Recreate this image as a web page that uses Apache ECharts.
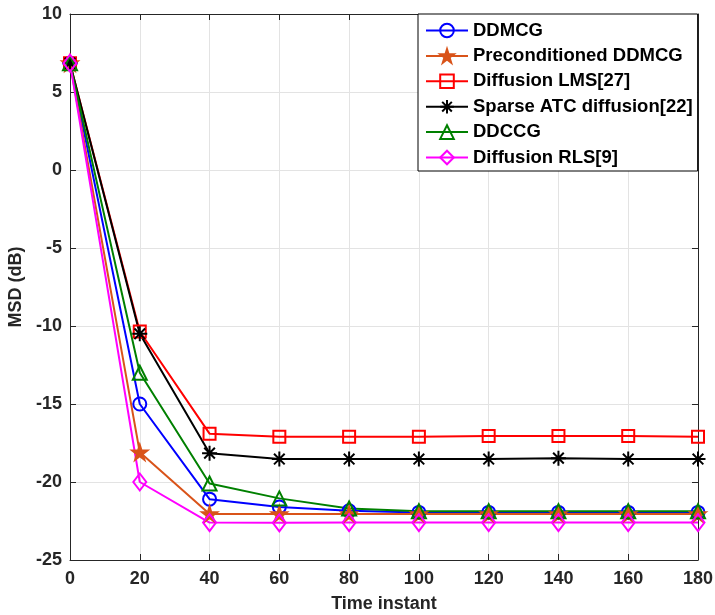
<!DOCTYPE html>
<html>
<head>
<meta charset="utf-8">
<script src="https://cdn.jsdelivr.net/npm/echarts@6/dist/echarts.min.js"></script>
<style>
  html, body { margin: 0; padding: 0; background: #fff; overflow: hidden; }
  #chart { width: 715px; height: 615px; }
</style>
</head>
<body>
<div id="chart"></div>
<script>
// Time instants at which the MSD was sampled
const timeInstants = [0, 20, 40, 60, 80, 100, 120, 140, 160, 180];

// MSD curves (dB)
const msdDDMCG      = [6.85, -15.0, -21.1, -21.6, -21.85, -21.95, -21.95, -21.95, -21.95, -21.95];
const msdPrecond    = [6.85, -18.1, -22.05, -22.05, -22.05, -22.05, -22.05, -22.05, -22.05, -22.05];
const msdLMS        = [6.85, -10.35, -16.9, -17.1, -17.1, -17.1, -17.05, -17.05, -17.05, -17.1];
const msdSparseATC  = [6.85, -10.5, -18.15, -18.53, -18.53, -18.53, -18.53, -18.47, -18.53, -18.53];
const msdDDCCG      = [6.85, -13.0, -20.1, -21.05, -21.7, -21.87, -21.87, -21.87, -21.87, -21.87];
const msdRLS        = [6.85, -20.0, -22.6, -22.62, -22.6, -22.6, -22.6, -22.6, -22.6, -22.6];

const seriesNames = ['DDMCG', 'Preconditioned DDMCG', 'Diffusion LMS[27]',
                     'Sparse ATC diffusion[22]', 'DDCCG', 'Diffusion RLS[9]'];

const xTicks = { min: 0, max: 180, interval: 20 };
const yTicks = { min: -25, max: 10, interval: 5 };

const STAR = 'path://M0,-100L22.5,-30.9L95.1,-30.9L36.3,11.8L58.8,80.9L0,38.2L-58.8,80.9L-36.3,11.8L-95.1,-30.9L-22.5,-30.9Z';
const ASTERISK = 'path://M0,-100L0,100M-100,0L100,0M-71,-71L71,71M-71,71L71,-71';

function pairs(ys) {
  return timeInstants.map((t, i) => [t, ys[i]]);
}

function curve(name, ys, color, symbol, size, filled) {
  return {
    name: name,
    type: 'line',
    data: pairs(ys),
    symbol: symbol,
    symbolSize: size,
    clip: false,
    lineStyle: { color: color, width: 2 },
    itemStyle: {
      color: filled ? color : 'rgba(255,255,255,0)',
      borderColor: color,
      borderWidth: 2
    },
    emphasis: { disabled: true },
    animation: false
  };
}

const font = 'Liberation Sans, Arial, Helvetica, sans-serif';
const axisInk = '#262626';

const chart = echarts.init(document.getElementById('chart'), null, { renderer: 'canvas' });

function baseX(extra) {
  return Object.assign({
    type: 'value', min: xTicks.min, max: xTicks.max, interval: xTicks.interval,
    axisLine: { show: true, onZero: false, lineStyle: { color: axisInk, width: 1 } },
    axisTick: { show: true, inside: true, length: 6, lineStyle: { color: axisInk } },
    splitLine: { show: false }
  }, extra);
}
function baseY(extra) {
  return Object.assign({
    type: 'value', min: yTicks.min, max: yTicks.max, interval: yTicks.interval,
    axisLine: { show: true, onZero: false, lineStyle: { color: axisInk, width: 1 } },
    axisTick: { show: true, inside: true, length: 6, lineStyle: { color: axisInk } },
    splitLine: { show: false }
  }, extra);
}

chart.setOption({
  backgroundColor: '#ffffff',
  animation: false,
  grid: { left: 70, right: 17, top: 14, bottom: 55, containLabel: false, outerBoundsMode: 'none' },
  legend: {
    orient: 'vertical',
    left: 418,
    top: 14,
    padding: [7, 5, 4, 7],
    itemGap: 6.4,
    itemWidth: 42,
    itemHeight: 17,
    backgroundColor: '#ffffff',
    borderColor: '#000000',
    borderWidth: 1,
    textStyle: { fontFamily: font, fontWeight: 'bold', fontSize: 18.5, color: '#000', lineHeight: 18 },
    data: seriesNames
  },
  xAxis: [
    baseX({
      position: 'bottom',
      name: 'Time instant',
      nameLocation: 'middle',
      nameGap: 35,
      nameTextStyle: { fontFamily: font, fontWeight: 'bold', fontSize: 18, color: axisInk },
      axisLabel: { margin: 10, fontFamily: font, fontWeight: 'bold', fontSize: 18, color: axisInk },
      splitLine: { show: true, lineStyle: { color: '#e3e3e3', width: 1 } }
    }),
    baseX({ position: 'top', axisLabel: { show: false } })
  ],
  yAxis: [
    baseY({
      position: 'left',
      name: 'MSD (dB)',
      nameLocation: 'middle',
      nameGap: 40,
      nameTextStyle: { fontFamily: font, fontWeight: 'bold', fontSize: 18, color: axisInk },
      axisLabel: { margin: 8, fontFamily: font, fontWeight: 'bold', fontSize: 18, color: axisInk },
      splitLine: { show: true, lineStyle: { color: '#e3e3e3', width: 1 } }
    }),
    baseY({ position: 'right', axisLabel: { show: false } })
  ],
  series: [
    curve(seriesNames[0], msdDDMCG, '#0000ff', 'circle', 13, false),
    curve(seriesNames[1], msdPrecond, '#d95319', STAR, 15, true),
    curve(seriesNames[2], msdLMS, '#ff0000', 'rect', 12, false),
    curve(seriesNames[3], msdSparseATC, '#000000', ASTERISK, 15, false),
    curve(seriesNames[4], msdDDCCG, '#008000', 'triangle', 14, false),
    curve(seriesNames[5], msdRLS, '#ff00ff', 'diamond', [13, 17], false)
  ]
});
</script>
</body>
</html>
